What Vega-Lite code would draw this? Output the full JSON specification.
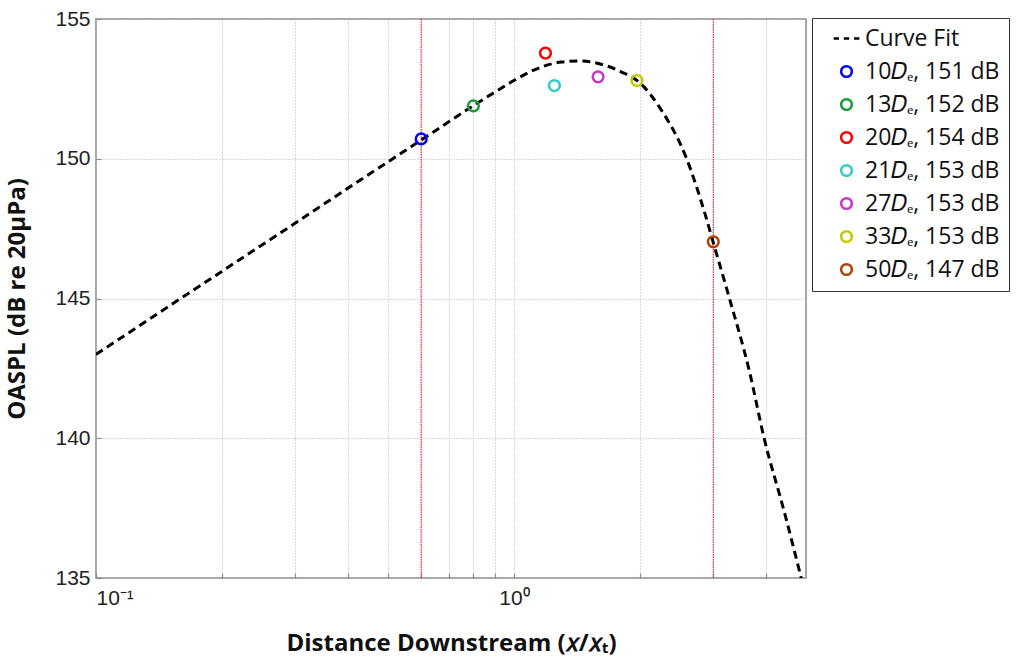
{
  "$schema": "https://vega.github.io/schema/vega-lite/v6.json",
  "autosize": "none",
  "width": 710,
  "height": 559,
  "padding": {"left": 96, "top": 19, "right": 225, "bottom": 81},
  "background": "white",
  "config": {
    "view": {"stroke": "#8a8a8a", "strokeWidth": 1.5},
    "axis": {
      "domain": false,
      "grid": true,
      "gridColor": "#b4b4b4",
      "gridDash": [1, 2],
      "gridWidth": 1,
      "tickColor": "#8a8a8a",
      "tickSize": -5,
      "tickWidth": 1.2,
      "labelFont": "Liberation Sans",
      "labelFontSize": 21,
      "labelColor": "#222",
      "titleFont": "Open Sans",
      "titleFontWeight": "bold",
      "titleColor": "#111"
    },
    "legend": {
      "labelFont": "Open Sans",
      "labelFontSize": 23,
      "labelColor": "#111"
    }
  },
  "datasets": {
    "curve": [
      {"x": 0.1, "y": 143.0},
      {"x": 0.15, "y": 144.74},
      {"x": 0.2, "y": 145.97},
      {"x": 0.3, "y": 147.7},
      {"x": 0.4, "y": 148.94},
      {"x": 0.5, "y": 149.89},
      {"x": 0.6, "y": 150.67},
      {"x": 0.7, "y": 151.33},
      {"x": 0.8, "y": 151.9},
      {"x": 0.9, "y": 152.38},
      {"x": 1.0, "y": 152.8},
      {"x": 1.1, "y": 153.13},
      {"x": 1.2, "y": 153.35},
      {"x": 1.3, "y": 153.46},
      {"x": 1.43, "y": 153.5},
      {"x": 1.6, "y": 153.4},
      {"x": 1.8, "y": 153.12},
      {"x": 2.0, "y": 152.72},
      {"x": 2.24, "y": 151.8},
      {"x": 2.59, "y": 150.0},
      {"x": 2.87, "y": 148.0},
      {"x": 3.0, "y": 147.0},
      {"x": 3.28, "y": 145.0},
      {"x": 3.66, "y": 142.4},
      {"x": 3.97, "y": 140.0},
      {"x": 4.43, "y": 137.4},
      {"x": 4.87, "y": 135.0}
    ],
    "points": [
      {"x": 0.6, "y": 150.71, "label": "10𝐷ₑ, 151 dB"},
      {"x": 0.8, "y": 151.89, "label": "13𝐷ₑ, 152 dB"},
      {"x": 1.19, "y": 153.78, "label": "20𝐷ₑ, 154 dB"},
      {"x": 1.25, "y": 152.62, "label": "21𝐷ₑ, 153 dB"},
      {"x": 1.59, "y": 152.93, "label": "27𝐷ₑ, 153 dB"},
      {"x": 1.97, "y": 152.8, "label": "33𝐷ₑ, 153 dB"},
      {"x": 3.0, "y": 147.03, "label": "50𝐷ₑ, 147 dB"}
    ],
    "rules": [{"x": 0.6}, {"x": 3.0}]
  },
  "layer": [
    {
      "data": {"name": "rules"},
      "mark": {"type": "rule", "color": "#f03030", "strokeWidth": 1.2, "strokeDash": [1.5, 1]},
      "encoding": {
        "x": {"field": "x", "type": "quantitative", "scale": {"type": "log", "domain": [0.1, 5], "nice": false}}
      }
    },
    {
      "data": {"name": "curve"},
      "mark": {"type": "line", "color": "black", "strokeWidth": 3, "strokeDash": [8, 5], "interpolate": "monotone", "clip": true},
      "encoding": {
        "x": {
          "field": "x", "type": "quantitative",
          "scale": {"type": "log", "domain": [0.1, 5], "nice": false},
          "axis": {
            "values": [0.1, 0.2, 0.3, 0.4, 0.5, 0.6, 0.7, 0.8, 0.9, 1, 2, 3, 4],
            "labelExpr": "datum.value == 0.1 ? '10⁻¹' : (datum.value == 1 ? '10⁰' : '')",
            "labelPadding": 14,
            "title": "Distance Downstream (𝑥/𝑥ₜ)",
            "titleFontSize": 24,
            "titlePadding": 23
          }
        },
        "y": {
          "field": "y", "type": "quantitative",
          "scale": {"domain": [135, 155], "nice": false, "zero": false},
          "axis": {
            "values": [135, 140, 145, 150, 155],
            "title": "OASPL (dB re 20μPa)",
            "titleFontSize": 24,
            "titlePadding": 25,
            "labelPadding": 11
          }
        }
      }
    },
    {
      "data": {"name": "points"},
      "mark": {"type": "point", "filled": false, "size": 115, "strokeWidth": 2.5, "opacity": 1},
      "encoding": {
        "x": {"field": "x", "type": "quantitative"},
        "y": {"field": "y", "type": "quantitative"},
        "color": {
          "field": "label", "type": "nominal",
          "scale": {
            "domain": ["Curve Fit", "10𝐷ₑ, 151 dB", "13𝐷ₑ, 152 dB", "20𝐷ₑ, 154 dB", "21𝐷ₑ, 153 dB", "27𝐷ₑ, 153 dB", "33𝐷ₑ, 153 dB", "50𝐷ₑ, 147 dB"],
            "range": ["#000000", "#0000ff", "#1a9a3a", "#ff0000", "#33cccc", "#cc33cc", "#c8c800", "#b0400c"]
          },
          "legend": {
            "title": null,
            "orient": "none",
            "legendX": 716,
            "legendY": -1,
            "strokeColor": "#333",
            "fillColor": "white",
            "padding": 9,
            "symbolSize": 115,
            "symbolStrokeWidth": 2.5,
            "symbolOffset": 14,
            "rowPadding": 9,
            "labelOffset": 7,
            "offset": 0
          }
        },
        "shape": {
          "field": "label", "type": "nominal",
          "scale": {
            "domain": ["Curve Fit", "10𝐷ₑ, 151 dB", "13𝐷ₑ, 152 dB", "20𝐷ₑ, 154 dB", "21𝐷ₑ, 153 dB", "27𝐷ₑ, 153 dB", "33𝐷ₑ, 153 dB", "50𝐷ₑ, 147 dB"],
            "range": ["M-2.4,0H-1.4M-0.5,0H0.5M1.4,0H2.4", "circle", "circle", "circle", "circle", "circle", "circle", "circle"]
          },
          "legend": {
            "title": null,
            "orient": "none",
            "legendX": 716,
            "legendY": -1,
            "strokeColor": "#333",
            "fillColor": "white",
            "padding": 9,
            "symbolSize": 115,
            "symbolStrokeWidth": 2.5,
            "symbolOffset": 14,
            "rowPadding": 9,
            "labelOffset": 7,
            "offset": 0
          }
        }
      }
    }
  ]
}
